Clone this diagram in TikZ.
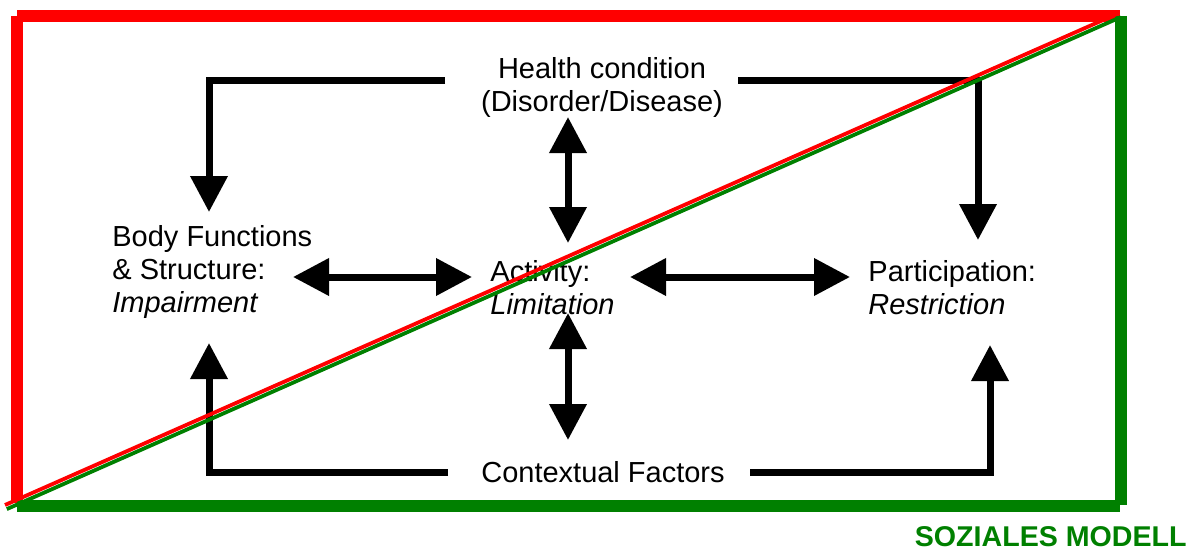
\documentclass[tikz,border=0pt]{standalone}
\usepackage{fontspec}
\setmainfont{Liberation Sans}
\usetikzlibrary{arrows.meta}
\definecolor{frred}{RGB}{255,0,0}
\definecolor{frgreen}{RGB}{0,128,0}
\def\dconn{\draw[conn]}
\def\dred{\draw[frred,line width=6pt]}
\def\dgreen{\draw[frgreen,line width=6pt]}

\begin{document}
\begin{tikzpicture}[x=0.5pt,y=-0.5pt,
    >={Triangle[length=18pt,width=18pt]},
    conn/.style={line width=3.5pt,line join=miter},
    lbl/.style={inner sep=0pt,align=left,font=\fontsize{14.5}{16.5}\selectfont},
    lblc/.style={lbl,align=center}]
  \useasboundingbox (0,0) rectangle (1192,551);

  \node[lblc] (health) at (602,87) {Health condition\\(Disorder/Disease)};
  \node[lbl,anchor=west] (body) at (112,272) {Body Functions\\\& Structure:\\\textit{Impairment}};
  \node[lbl,anchor=west] (act) at (490,288) {Activity:\\\textit{Limitation}};
  \node[lbl,anchor=west] (part) at (868,288) {Participation:\\\textit{Restriction}};
  \node[lblc] (ctx) at (603,472) {Contextual Factors};
  \node[anchor=base east,inner sep=0pt,text=frgreen,
        font=\fontsize{14.3}{16}\selectfont\bfseries] (soz) at (1187,546.5) {SOZIALES MODELL};

  \dconn[->] ([xshift=-78.5pt,yshift=3pt]health.center) -| ([xshift=48.5pt,yshift=30pt]body.west);
  \dconn[->] ([xshift=68pt,yshift=3pt]health.center) -| ([xshift=55pt,yshift=24pt]part.west);
  \dconn[<->] ([xshift=-17pt,yshift=-15pt]health.center) -- ([xshift=39pt,yshift=22.5pt]act.west);
  \dconn[<->] ([xshift=90.5pt,yshift=-2.5pt]body.west) -- ([xshift=-9pt,yshift=5.5pt]act.west);
  \dconn[<->] ([xshift=70pt,yshift=5.5pt]act.west) -- ([xshift=-9pt,yshift=5.5pt]part.west);
  \dconn[<->] ([xshift=39pt,yshift=-12.5pt]act.west) -- ([xshift=-17.5pt,yshift=16pt]ctx.center);
  \dconn[->] ([xshift=-77.5pt]ctx.center) -| ([xshift=48.5pt,yshift=-35.5pt]body.west);
  \dconn[->] ([xshift=73.5pt]ctx.center) -| ([xshift=61pt,yshift=-28.5pt]part.west);

  % frame
  \dred (17,16) -- (1120,16);
  \dred (17,16) -- (17,503);
  \dgreen (1121,16) -- (1121,505);
  \dgreen (17,506) -- (1120,506);

  \draw[frred,line width=1.9pt] (5,505) -- (1119,13);
  \draw[frgreen,line width=1.9pt] (6.8,509.1) -- (1120.8,17.1);
\end{tikzpicture}
\end{document}
